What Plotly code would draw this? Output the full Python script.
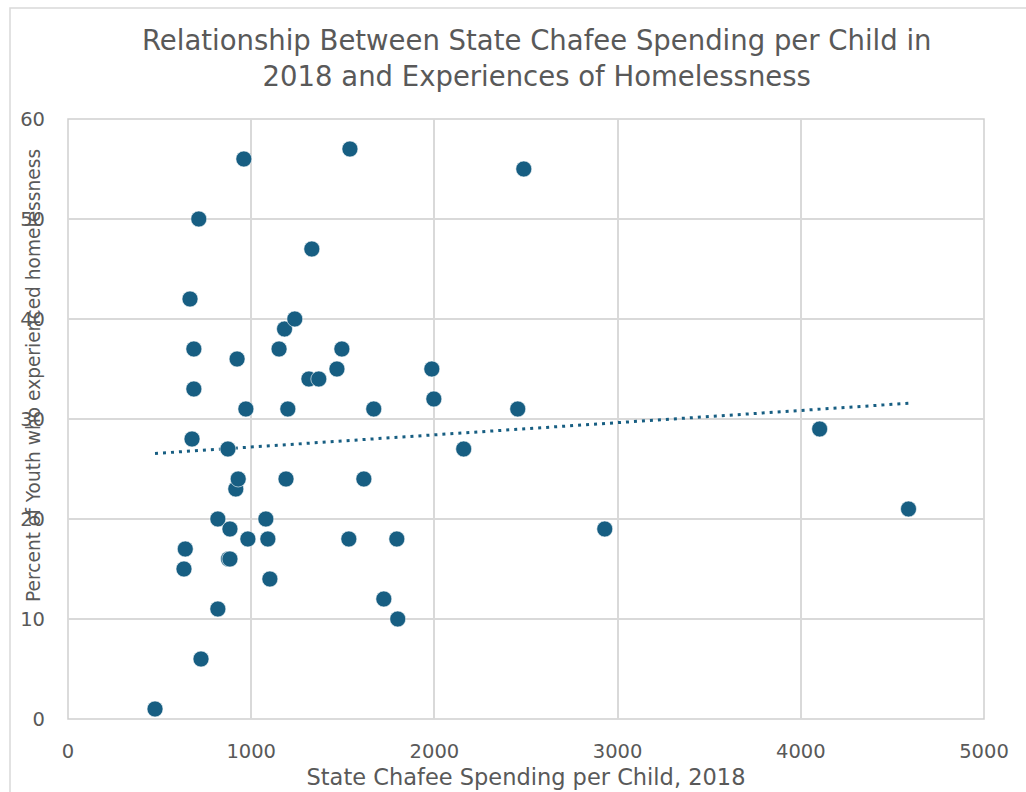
import numpy as np
import plotly.graph_objects as go

# Data
spending = [475, 726, 818, 633, 640, 818, 884, 876, 884, 982, 1080, 1091, 1102,
            916, 929, 873, 677, 971, 1200, 1190, 687, 687, 666, 714, 960, 923,
            1152, 1182, 1238, 1539, 2488, 1331, 1495, 1468, 1315, 1369, 1669,
            1986, 1997, 2455, 2160, 1615, 1533, 1795, 1724, 1800, 2930, 4103, 4588]
homeless = [1, 6, 11, 15, 17, 20, 19, 16, 16, 18, 20, 18, 14,
            23, 24, 27, 28, 31, 31, 24, 33, 37, 42, 50, 56, 36,
            37, 39, 40, 57, 55, 47, 37, 35, 34, 34, 31,
            35, 32, 31, 27, 24, 18, 18, 12, 10, 19, 29, 21]

x_ticks = [0, 1000, 2000, 3000, 4000, 5000]
y_ticks = [0, 10, 20, 30, 40, 50, 60]

title_text = "Relationship Between State Chafee Spending per Child in<br>2018 and Experiences of Homelessness"
x_title = "State Chafee Spending per Child, 2018"
y_title = "Percent of Youth who experienced homelessness"

COLOR = "#175E82"
GRID = "#D9D9D9"
TXT = "#595959"
FONT = "DejaVu Sans"

# Linear trendline (least squares) from the data
xs = np.array(spending, dtype=float)
ys = np.array(homeless, dtype=float)
slope, intercept = np.polyfit(xs, ys, 1)
tx = [xs.min(), xs.max()]
ty = [slope * v + intercept for v in tx]

fig = go.Figure()
fig.add_trace(go.Scatter(
    x=tx, y=ty, mode="lines",
    line=dict(color=COLOR, width=3, dash="3px,5px"),
    hoverinfo="skip", showlegend=False))
fig.add_trace(go.Scatter(
    x=spending, y=homeless, mode="markers",
    marker=dict(color=COLOR, size=16, line=dict(color="white", width=0.6)),
    showlegend=False))

L, R, T, B = 68, 42, 119, 73
W, H = 1026, 792
pw, ph = W - L - R, H - T - B

def px_x(p):
    return (p - L) / pw

def px_y(p):
    return (T + ph - p) / ph

fig.update_layout(
    width=W, height=H,
    margin=dict(l=L, r=R, t=T, b=B, autoexpand=False),
    paper_bgcolor="white", plot_bgcolor="white",
    font=dict(family=FONT, color=TXT, size=18),
    xaxis=dict(range=[0, 5000], tickvals=x_ticks, showgrid=True, gridcolor=GRID,
               gridwidth=1.5, zeroline=False, showline=False, automargin=False,
               ticks="", tickfont=dict(size=19.5, color=TXT), ticklabelstandoff=18,
               title=dict(text=x_title, font=dict(size=22.5, color=TXT), standoff=7)),
    yaxis=dict(range=[0, 60], tickvals=y_ticks, showgrid=True, gridcolor=GRID,
               gridwidth=1.5, zeroline=False, showline=False, automargin=False,
               ticks="", tickfont=dict(size=19.5, color=TXT), ticklabelstandoff=22),
    shapes=[
        dict(type="rect", xref="paper", yref="paper",
             x0=0, x1=1, y0=0, y1=1, line=dict(color="#CFCFCF", width=1.5),
             fillcolor="rgba(0,0,0,0)", layer="below"),
        dict(type="rect", xref="paper", yref="paper",
             x0=px_x(10), x1=px_x(1040), y0=px_y(800), y1=px_y(8),
             line=dict(color="#D9D9D9", width=1.5),
             fillcolor="rgba(0,0,0,0)", layer="below"),
    ],
    annotations=[
        dict(text=title_text, xref="paper", yref="paper",
             x=px_x(536), y=px_y(58), xanchor="center", yanchor="middle",
             showarrow=False, align="center",
             font=dict(size=27.5, color=TXT, family=FONT)),
        dict(text=y_title, textangle=-90, xref="paper", yref="paper",
             x=px_x(33), y=px_y(376), xanchor="center", yanchor="middle",
             showarrow=False, font=dict(size=18.6, color=TXT, family=FONT)),
    ],
)

fig.write_html("out.html")
